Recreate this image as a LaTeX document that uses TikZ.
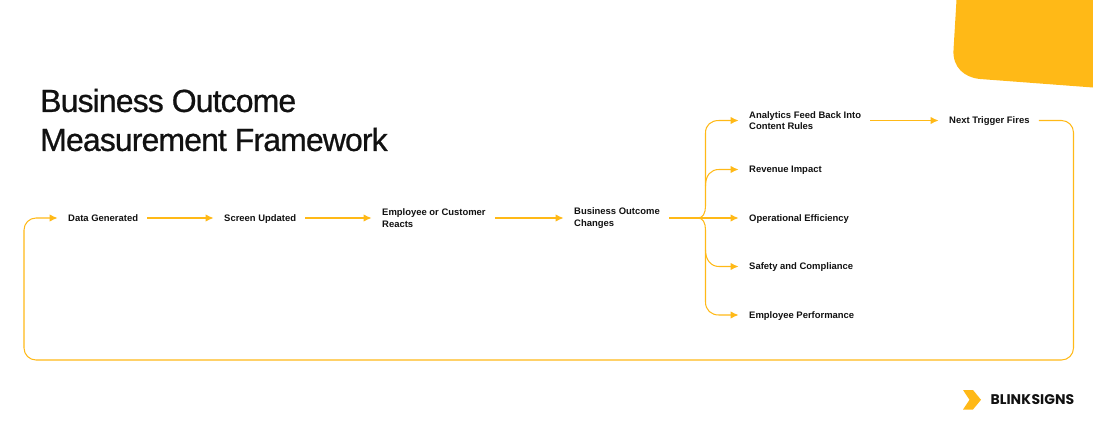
\documentclass[tikz,border=0pt]{standalone}
\usepackage{fontspec}
\setmainfont{Liberation Sans}
\newfontfamily\titlefont[FakeBold=0.7,LetterSpace=-2.8]{Liberation Sans}
\newfontfamily\logofont{Poppins}
\usetikzlibrary{arrows.meta,positioning}
\definecolor{blinkyellow}{RGB}{255,185,23}
\definecolor{labelblack}{RGB}{17,17,17}

\begin{document}
\begin{tikzpicture}[
    x=1pt, y=-1pt,
    label/.style={anchor=west, align=left, inner xsep=9pt, inner ysep=0pt, text=labelblack,
        font=\fontsize{9.45}{11.6}\selectfont\bfseries},
    oneline/.style={label, text height=7pt, text depth=0.5pt},
    flow/.style={draw=blinkyellow, line width=1.05pt},
    arrow/.style={flow, -{Latex[length=8pt,width=7.5pt]}, shorten >=1.5pt}
]
    \useasboundingbox (0,0) rectangle (1093,431);

    % Corner and logo
    \fill[blinkyellow] (956.5,0) -- (953.5,50) .. controls (952.5,67) and (964,77.5) .. (980,79)
        -- (1093,87.5) -- (1093,0) -- cycle;
    \fill[blinkyellow] (963,390) -- (973,390) -- (981,399.8) -- (973,409.5) -- (963,409.5) -- (969.5,399.8) -- cycle;
    \node[anchor=west, inner sep=0pt, text=labelblack, font=\logofont\fontsize{14}{15}\selectfont\bfseries] (logo) at (990.5,399.5) {BLINK\kern0.6pt SIGNS};

    % Title
    \node[anchor=west, align=left, inner sep=0pt, text=labelblack, font=\titlefont\fontsize{32}{39}\selectfont] (title) at (40,120) {Business Outcome\\Measurement Framework};

    % Nodes
    \node[oneline] (data) at (59,218) {Data Generated};
    \node[oneline] (screen) at (215,218) {Screen Updated};
    \node[label] (react) at (373,218) {Employee or Customer\\Reacts};
    \node[label] (outcome) at (565,218) {Business Outcome\\Changes};
    \node[label] (analytics) at (740,120.5) {Analytics Feed Back Into\\Content Rules};
    \node[oneline] (next) at (940,120.5) {Next Trigger Fires};
    \node[oneline] (revenue) at (740,169.5) {Revenue Impact};
    \node[oneline] (oper) at (740,218) {Operational Efficiency};
    \node[oneline] (safety) at (740,266.5) {Safety and Compliance};
    \node[oneline] (staff) at (740,315) {Employee Performance};

    % Helper points
    \coordinate (fork) at (698,218);
    \coordinate (forkup) at (705.5,186);
    \coordinate (forkdown) at (705.5,250);
    \coordinate (loopse) at (1073.5,360);
    \coordinate (loopsw) at (24,360);

    % Arrows
    \draw[arrow] (data.east) -- (screen.west);
    \draw[arrow] (screen.east) -- (react.west);
    \draw[arrow] (react.east) -- (outcome.west);
    \draw[arrow] (outcome.east) -- (oper.west);
    \draw[arrow] (analytics.east) -- (next.west);
    \draw[arrow] (fork) .. controls (703,218) and (705.5,213) .. (705.5,206) -- (705.5,133)
        .. controls (705.5,125) and (711,120.5) .. (719,120.5) -- (analytics.west);
    \draw[arrow] (forkup) .. controls (705.5,175) and (711,169.5) .. (719,169.5) -- (revenue.west);
    \draw[arrow] (fork) .. controls (703,218) and (705.5,223) .. (705.5,230) -- (705.5,302)
        .. controls (705.5,310) and (711,315) .. (719,315) -- (staff.west);
    \draw[arrow] (forkdown) .. controls (705.5,260) and (711,266.5) .. (719,266.5) -- (safety.west);

    % Loop back
    \draw[arrow, rounded corners=12pt] (next.east) -| (loopse) -- (loopsw) |- (data.west);
\end{tikzpicture}
\end{document}
